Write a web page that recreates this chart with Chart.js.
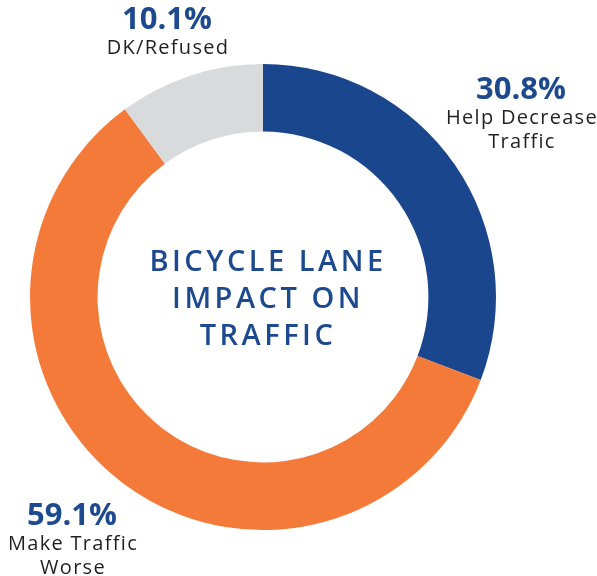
<!DOCTYPE html>
<html><head><meta charset="utf-8">
<script src="https://cdn.jsdelivr.net/npm/chart.js@4/dist/chart.umd.min.js"></script>
<style>html,body{margin:0;padding:0;background:#fff;}#wrap{width:597px;height:576px;position:relative;}</style>
</head><body><div id="wrap"><canvas id="c" width="597" height="576"></canvas></div>
<script>
const categories = ['Help Decrease Traffic', 'Make Traffic Worse', 'DK/Refused'];
const values = [30.8, 59.1, 10.1];
const valueLabels = ['30.8%', '59.1%', '10.1%'];
const labelLines = [['Help Decrease', 'Traffic'], ['Make Traffic', 'Worse'], ['DK/Refused']];
const centerTitle = ['BICYCLE LANE', 'IMPACT ON', 'TRAFFIC'];

const sliceColors = ['#19468c', '#f47a3a', '#d9dadb'];
const labelAnchors = [[521, 90], [72, 516], [167, 20]];
const textBlue = '#1d4a8f';
const textDark = '#231f20';

const labelPlugin = {
  id: 'labels',
  afterDraw(chart) {
    const ctx = chart.ctx;
    const meta = chart.getDatasetMeta(0);
    const arc0 = meta.data[0];
    const cx = arc0.x, cy = arc0.y;
    ctx.save();
    ctx.textAlign = 'center';
    ctx.textBaseline = 'middle';
    // center title
    ctx.fillStyle = textBlue;
    ctx.font = '600 29px "Open Sans"';
    ctx.letterSpacing = '3.5px';
    centerTitle.forEach((t, i) => {
      ctx.fillText(t, cx + 5, cy - 34 + i * 37);
    });
    // slice labels
    meta.data.forEach((arc, i) => {
      const [x, y] = labelAnchors[i];
      ctx.fillStyle = textBlue;
      ctx.font = 'bold 31px "Open Sans"';
      ctx.letterSpacing = '0px';
      ctx.fillText(valueLabels[i], x, y);
      ctx.fillStyle = textDark;
      ctx.font = '20px "Open Sans"';
      ctx.letterSpacing = '1.3px';
      labelLines[i].forEach((l, j) => {
        ctx.fillText(l, x + 1, y + 28 + j * 24);
      });
    });
    ctx.restore();
  }
};

new Chart(document.getElementById('c'), {
  type: 'doughnut',
  data: {
    labels: categories,
    datasets: [{
      data: values,
      backgroundColor: sliceColors,
      borderWidth: 0,
      hoverOffset: 0
    }]
  },
  options: {
    responsive: false,
    animation: false,
    cutout: '71%',
    layout: { padding: { left: 30, right: 101, top: 64, bottom: 46 } },
    plugins: { legend: { display: false }, tooltip: { enabled: false } }
  },
  plugins: [labelPlugin]
});
</script>
</body></html>
